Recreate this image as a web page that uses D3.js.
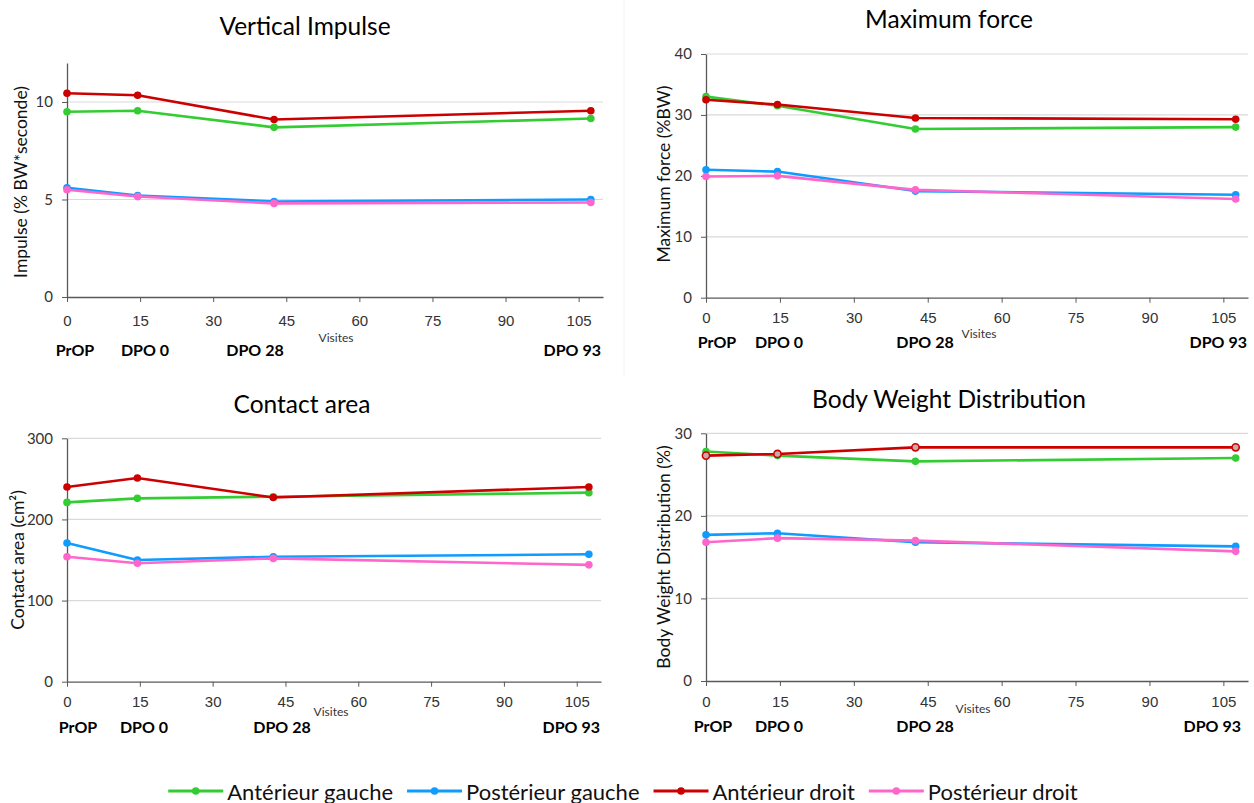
<!DOCTYPE html>
<html><head><meta charset="utf-8">
<script src="https://cdn.jsdelivr.net/npm/d3@7"></script>
<style>
html,body{margin:0;padding:0;background:#fff;}
svg{display:block;font-family:Lato,"Open Sans",sans-serif;}
</style></head>
<body>
<svg id="chart" width="1254" height="803"></svg>
<script>
// ---------- data ----------
const visitDays = [0, 14.5, 42.5, 107.5];
const visitLabels = ["PrOP", "DPO 0", "DPO 28", "DPO 93"];
const xTickValues = [0, 15, 30, 45, 60, 75, 90, 105];
const seriesNames = ["Antérieur gauche", "Postérieur gauche", "Antérieur droit", "Postérieur droit"];
const seriesColors = ["#33cc33", "#0f9cff", "#cc0000", "#ff66cc"];

const impulseAG = [9.5, 9.55, 8.7, 9.15];
const impulsePG = [5.6, 5.2, 4.9, 5.0];
const impulseAD = [10.45, 10.35, 9.1, 9.55];
const impulsePD = [5.5, 5.15, 4.8, 4.85];

const forceAG = [33.0, 31.5, 27.7, 28.0];
const forcePG = [21.0, 20.7, 17.5, 16.9];
const forceAD = [32.5, 31.7, 29.5, 29.3];
const forcePD = [19.9, 20.0, 17.7, 16.2];

const areaAG = [221, 226, 228, 233];
const areaPG = [171, 150, 154, 157];
const areaAD = [240, 251, 227, 240];
const areaPD = [154, 146, 152, 144];

const bwdAG = [27.8, 27.3, 26.6, 27.0];
const bwdPG = [17.7, 17.9, 16.8, 16.3];
const bwdAD = [27.3, 27.5, 28.3, 28.3];
const bwdPD = [16.8, 17.3, 17.0, 15.7];

const impulseTicks = [0, 5, 10];
const forceTicks = [0, 10, 20, 30, 40];
const areaTicks = [0, 100, 200, 300];
const bwdTicks = [0, 10, 20, 30];

// ---------- layout ----------
const panels = [
  {title: "Vertical Impulse", yLabel: "Impulse (% BW*seconde)", series: [impulseAG, impulsePG, impulseAD, impulsePD],
   yMax: 12, yTicks: impulseTicks, x0: 67, x1: 603, y0: 297, y1: 63,
   titleX: 305, titleY: 25, yLabX: 20, yLabY: 182, tickY: 320, catY: 349, visX: 336, visY: 337,
   catPos: [75, 145, 255, 601], redHollow: false},
  {title: "Maximum force", yLabel: "Maximum force (%BW)", series: [forceAG, forcePG, forceAD, forcePD],
   yMax: 40, yTicks: forceTicks, x0: 706, x1: 1248, y0: 297.7, y1: 54,
   titleX: 949, titleY: 18, yLabX: 663, yLabY: 174, tickY: 318, catY: 341, visX: 979, visY: 333,
   catPos: [717, 779, 925, 1247], redHollow: false},
  {title: "Contact area", yLabel: "Contact area (cm²)", series: [areaAG, areaPG, areaAD, areaPD],
   yMax: 300, yTicks: areaTicks, x0: 67, x1: 601, y0: 681.7, y1: 438.3,
   titleX: 302, titleY: 403, yLabX: 17, yLabY: 560, tickY: 702, catY: 726, visX: 331, visY: 711,
   catPos: [78, 144, 282, 600], redHollow: false},
  {title: "Body Weight Distribution", yLabel: "Body Weight Distribution (%)", series: [bwdAG, bwdPG, bwdAD, bwdPD],
   yMax: 30, yTicks: bwdTicks, x0: 706, x1: 1248, y0: 681, y1: 433.3,
   titleX: 949, titleY: 398, yLabX: 663, yLabY: 557, tickY: 701, catY: 725, visX: 973, visY: 708,
   catPos: [713, 779, 925, 1241], redHollow: true}
];

const svg = d3.select("#chart");

// faint separator
svg.append("line").attr("x1", 624).attr("x2", 624).attr("y1", 0).attr("y2", 377)
  .attr("stroke", "#f2f2f2").attr("stroke-width", 1);

panels.forEach(p => {
  const g = svg.append("g");
  const x = d3.scaleLinear().domain([0, 110]).range([p.x0, p.x1]);
  const y = d3.scaleLinear().domain([0, p.yMax]).range([p.y0, p.y1]);

  // gridlines
  g.append("g").selectAll("line").data(p.yTicks.filter(t => t > 0)).join("line")
    .attr("x1", p.x0).attr("x2", p.x1)
    .attr("y1", d => y(d)).attr("y2", d => y(d))
    .attr("stroke", "#d9d9d9").attr("stroke-width", 1.2);

  // y axis
  const yAxis = g.append("g").attr("transform", `translate(${p.x0},0)`)
    .call(d3.axisLeft(y).tickValues(p.yTicks).tickSize(5).tickSizeOuter(0).tickPadding(9));
  yAxis.select(".domain").attr("stroke", "#595959").attr("stroke-width", 1.3);
  yAxis.selectAll(".tick line").attr("stroke", "#595959");
  yAxis.selectAll(".tick text").attr("font-size", 15).attr("fill", "#333").attr("font-family", "Lato");

  // x axis
  const xAxis = g.append("g").attr("transform", `translate(0,${p.y0})`)
    .call(d3.axisBottom(x).tickValues(xTickValues).tickSize(5).tickSizeOuter(0).tickPadding(0));
  xAxis.select(".domain").attr("stroke", "#595959").attr("stroke-width", 1.3);
  xAxis.selectAll(".tick line").attr("stroke", "#595959");
  xAxis.selectAll(".tick text").attr("font-size", 15).attr("fill", "#333")
    .attr("dy", null).attr("y", p.tickY - p.y0).attr("dominant-baseline", "central");

  // title
  g.append("text").attr("x", p.titleX).attr("y", p.titleY).attr("text-anchor", "middle")
    .attr("dominant-baseline", "central").attr("font-size", 24.5).attr("fill", "#000").text(p.title);

  // y label
  g.append("text").attr("transform", `translate(${p.yLabX},${p.yLabY}) rotate(-90)`)
    .attr("text-anchor", "middle").attr("dominant-baseline", "central")
    .attr("font-size", 17.5).attr("fill", "#111").text(p.yLabel);

  // Visites
  g.append("text").attr("x", p.visX).attr("y", p.visY).attr("text-anchor", "middle")
    .attr("dominant-baseline", "central").attr("font-size", 12).attr("fill", "#333").text("Visites");

  // category labels
  g.append("g").selectAll("text").data(visitLabels).join("text")
    .attr("x", (d, i) => p.catPos[i]).attr("y", p.catY)
    .attr("text-anchor", (d, i) => i === 3 ? "end" : "middle")
    .attr("dominant-baseline", "central").attr("font-size", 16).attr("font-weight", "bold")
    .attr("fill", "#000").text(d => d);

  // series
  const line = d3.line().x((d, i) => x(visitDays[i])).y(d => y(d));
  p.series.forEach((vals, si) => {
    const col = seriesColors[si];
    g.append("path").datum(vals).attr("d", line).attr("fill", "none")
      .attr("stroke", col).attr("stroke-width", 2.6).attr("stroke-linejoin", "round");
    const hollow = p.redHollow && si === 2;
    g.append("g").selectAll("circle").data(vals).join("circle")
      .attr("cx", (d, i) => x(visitDays[i])).attr("cy", d => y(d))
      .attr("r", hollow ? 3.6 : 3.8)
      .attr("fill", hollow ? "#c9a9a9" : col)
      .attr("stroke", col).attr("stroke-width", hollow ? 1.6 : 0);
  });
});

// legend
const legend = svg.append("g");
const lineLen = 55, textGap = 4, itemGap = 14, legY = 791;
let cx = 0;
const items = [];
seriesNames.forEach((name, i) => {
  const it = legend.append("g");
  it.append("line").attr("x1", 0).attr("x2", lineLen).attr("y1", 0).attr("y2", 0)
    .attr("stroke", seriesColors[i]).attr("stroke-width", 2.8);
  it.append("circle").attr("cx", lineLen / 2).attr("cy", 0).attr("r", 3.8).attr("fill", seriesColors[i]);
  const t = it.append("text").attr("x", lineLen + textGap).attr("y", 0)
    .attr("dominant-baseline", "central").attr("font-size", 22).attr("fill", "#111").text(name);
  const w = lineLen + textGap + t.node().getComputedTextLength();
  items.push({it, x: cx});
  cx += w + itemGap;
});
const total = cx - itemGap;
const startX = 623 - total / 2;
items.forEach(o => o.it.attr("transform", `translate(${startX + o.x},${legY})`));
</script>
</body></html>
